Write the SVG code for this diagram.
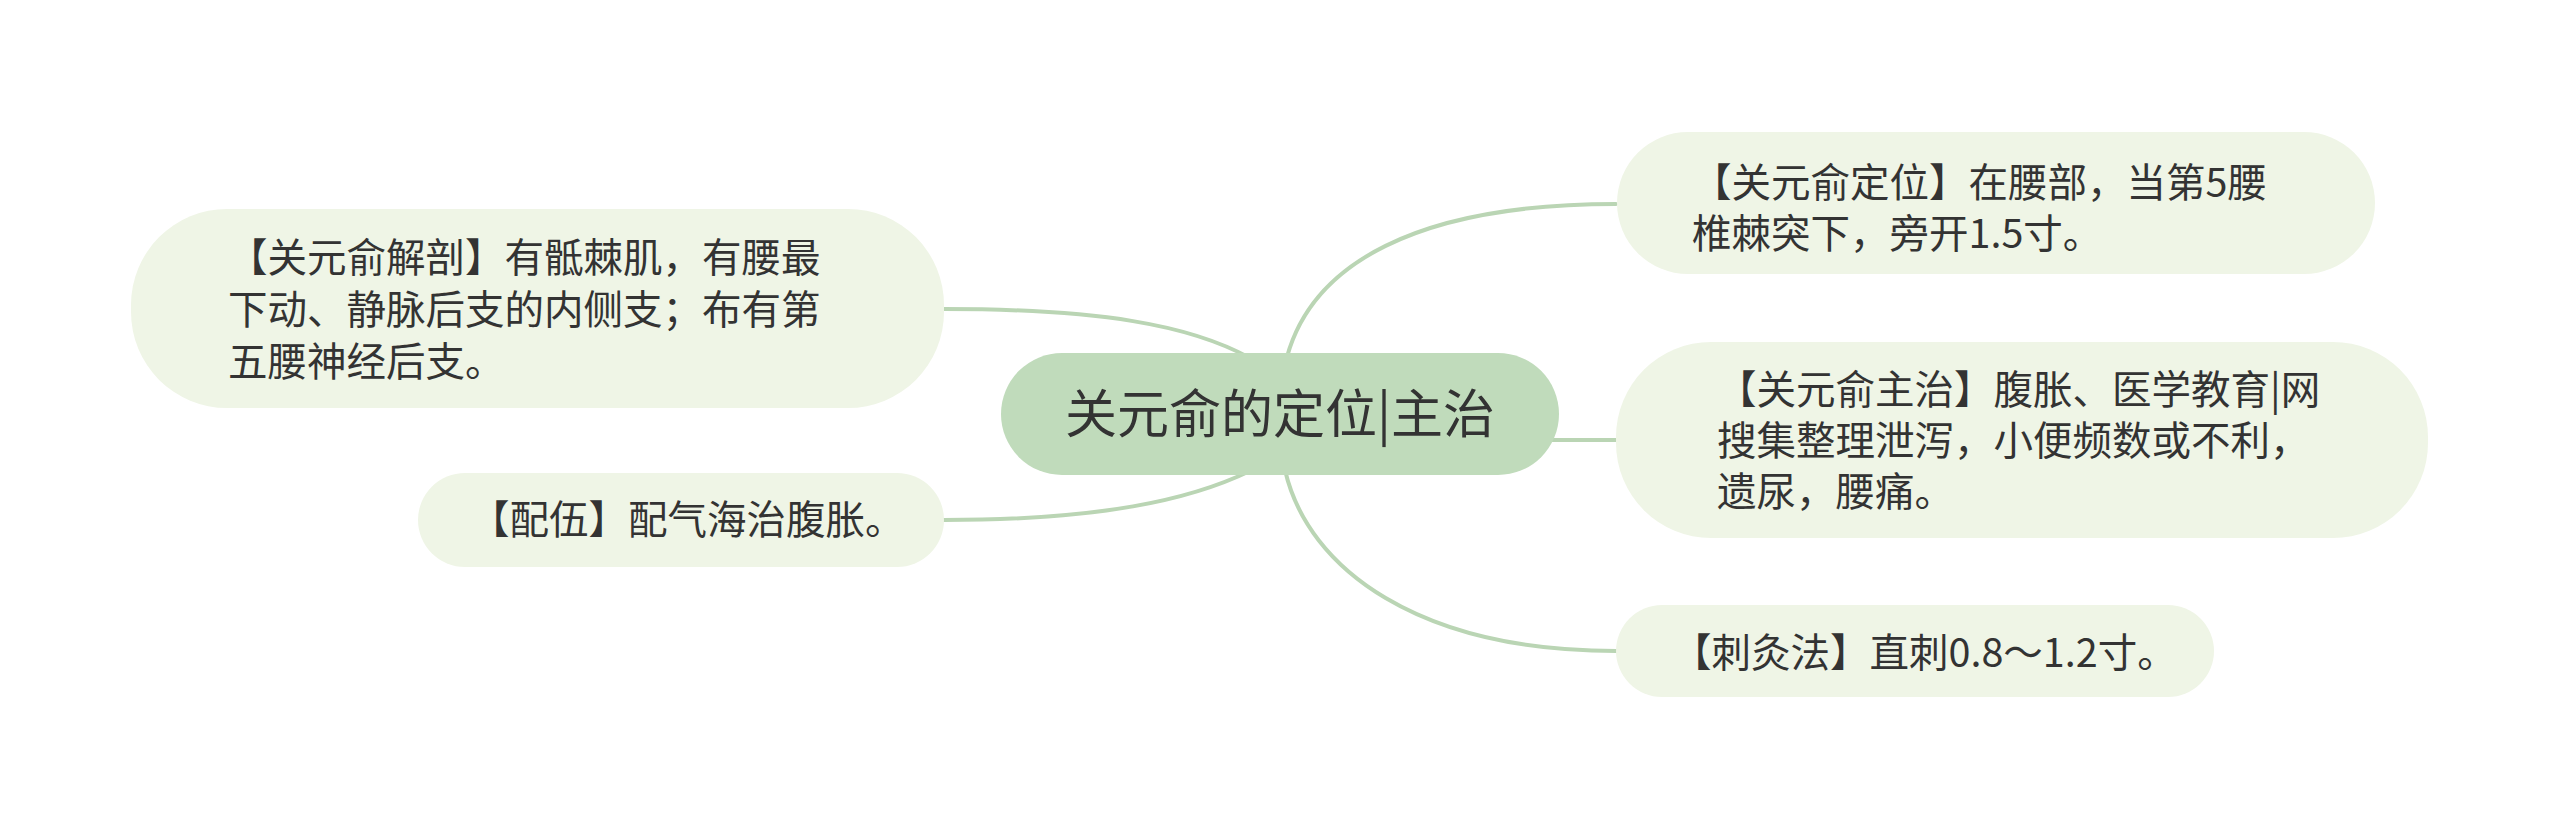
<svg xmlns="http://www.w3.org/2000/svg" width="2560" height="829" viewBox="0 0 2560 829">
<style>
.bg{fill:#ffffff}
.link{fill:none;stroke:#bad5b4;stroke-width:4;stroke-linecap:round}
.root rect{fill:#c0dbbb}
.sub rect{fill:#eff5e6}
text{font-family:"Noto Sans CJK SC","Noto Sans",sans-serif;fill:#333333}
.rt{font-size:52px}
.st{font-size:39.5px}
</style>
<rect class="bg" x="0" y="0" width="2560" height="829"/>
<g id="connectors">
<path class="link" d="M944 309 C 1100 309, 1190 325, 1250 358"/>
<path class="link" d="M944 520 C 1100 520, 1190 500, 1250 471"/>
<path class="link" d="M1285 365 C 1308 262, 1420 204, 1616 204"/>
<path class="link" d="M1285 470 C 1308 570, 1420 651, 1616 651"/>
<path class="link" d="M1540 440 L 1616 440"/>
</g>
<g id="root" class="root">
<rect x="1001" y="353" width="558" height="122" rx="61"/>
<text class="rt" x="1280" y="433" text-anchor="middle">关元俞的定位|主治</text>
</g>
<g id="node-anatomy" class="sub">
<rect x="131" y="209" width="813" height="199" rx="96"/>
<text class="st" x="228" y="272">【关元俞解剖】有骶棘肌，有腰最</text>
<text class="st" x="228" y="324">下动、静脉后支的内侧支；布有第</text>
<text class="st" x="228" y="376">五腰神经后支。</text>
</g>
<g id="node-combo" class="sub">
<rect x="418" y="473" width="526" height="94" rx="47"/>
<text class="st" x="470" y="534">【配伍】配气海治腹胀。</text>
</g>
<g id="node-location" class="sub">
<rect x="1617" y="132" width="758" height="142" rx="71"/>
<text class="st" x="1692" y="197">【关元俞定位】在腰部，当第5腰</text>
<text class="st" x="1692" y="248">椎棘突下，旁开1.5寸。</text>
</g>
<g id="node-indication" class="sub">
<rect x="1616" y="342" width="812" height="196" rx="95"/>
<text class="st" x="1717" y="404">【关元俞主治】腹胀、医学教育|网</text>
<text class="st" x="1717" y="455">搜集整理泄泻，小便频数或不利，</text>
<text class="st" x="1717" y="506">遗尿，腰痛。</text>
</g>
<g id="node-needling" class="sub">
<rect x="1616" y="605" width="598" height="92" rx="46"/>
<text class="st" x="1672" y="667">【刺灸法】直刺0.8～1.2寸。</text>
</g>
</svg>
